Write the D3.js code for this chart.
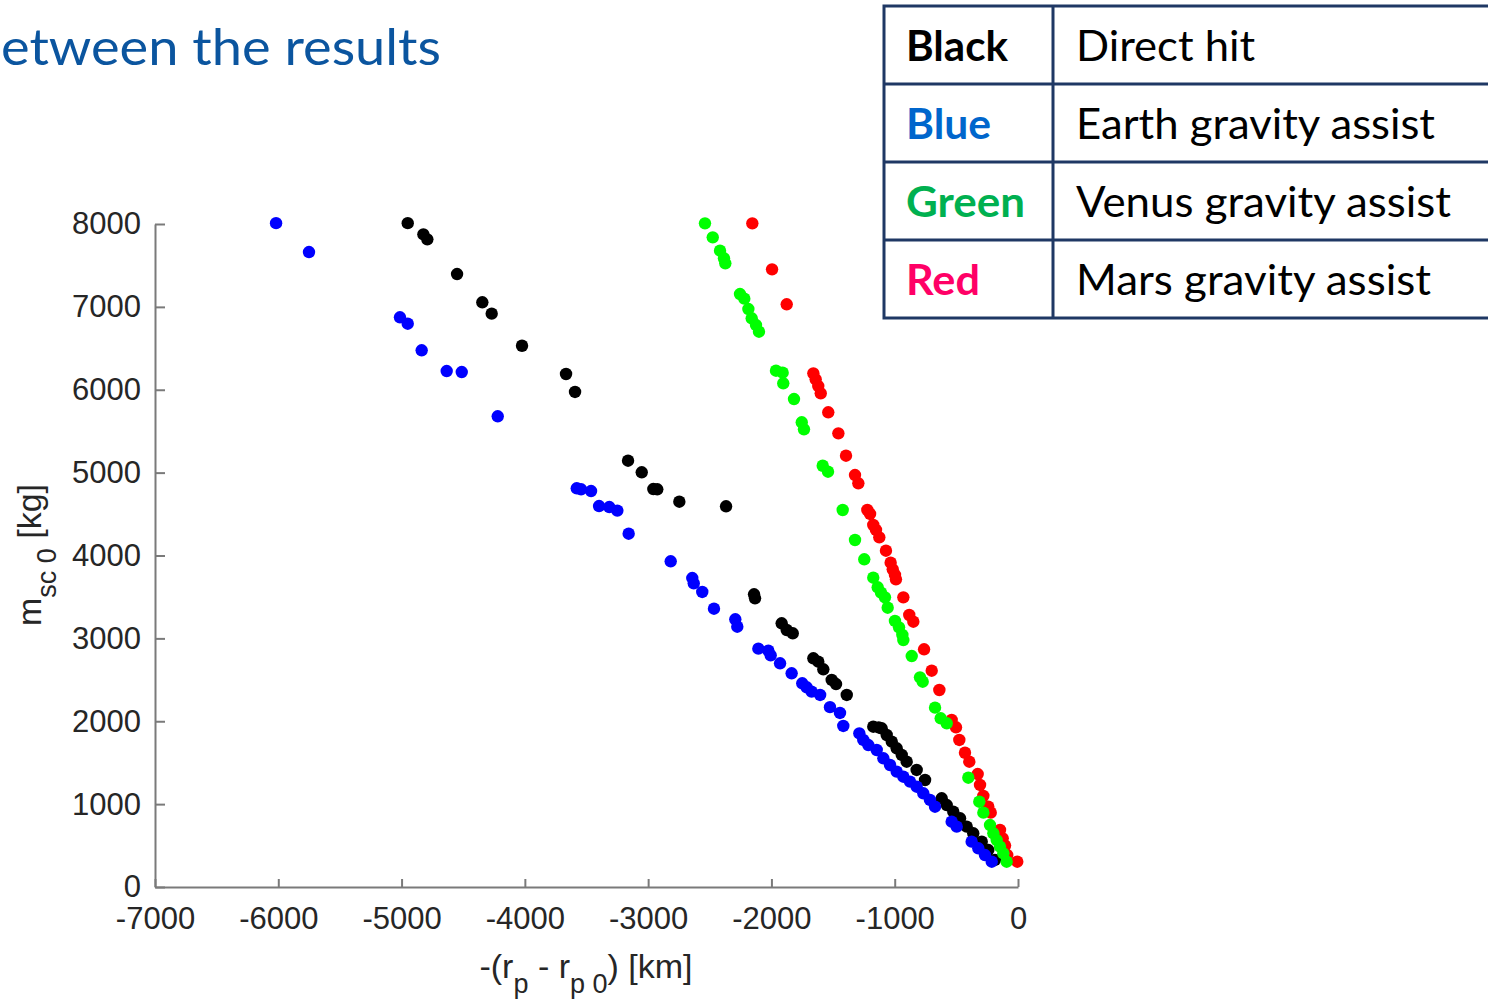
<!DOCTYPE html>
<html>
<head>
<meta charset="utf-8">
<script src="https://cdn.jsdelivr.net/npm/d3@7"></script>
<style>
  html, body { margin: 0; padding: 0; background: #fff; }
  svg { display: block; }
</style>
</head>
<body>
<svg id="chart" width="1488" height="1000"></svg>
<script>
// Tick values for both axes
const xTicks = [-7000, -6000, -5000, -4000, -3000, -2000, -1000, 0];
const yTicks = [0, 1000, 2000, 3000, 4000, 5000, 6000, 7000, 8000];

// Direct hit: -(rp - rp0) [km], msc0 [kg]
const blackX = [-4950, -4823, -4791, -4550, -4345, -4269, -4023, -3666, -3593, -3163, -3052, -2958, -2926, -2747, -2368,
  -2141, -2133, -1917, -1876, -1827, -1660, -1620, -1579, -1511, -1476, -1389, -1174, -1130, -1106, -1065, -1024, -984,
  -943, -903, -822, -754, -619, -578, -525, -470, -416, -363, -294, -241, -187];
const blackY = [8010, 7875, 7815, 7396, 7055, 6918, 6531, 6190, 5973, 5144, 5004, 4802, 4799, 4649, 4594,
  3532, 3483, 3182, 3101, 3061, 2760, 2719, 2627, 2498, 2449, 2317, 1934, 1925, 1915, 1834, 1753, 1674,
  1593, 1512, 1412, 1291, 1070, 989, 909, 829, 728, 648, 547, 446, 326];

// Earth gravity assist
const blueX = [-6018, -5751, -5013, -4950, -4837, -4634, -4512, -4220, -3579, -3544, -3463, -3398, -3315, -3250, -3158,
  -2817, -2642, -2630, -2561, -2466, -2293, -2277, -2106, -2025, -2006, -1930, -1836, -1750, -1714, -1674, -1605,
  -1525, -1444, -1417, -1287, -1255, -1214, -1146, -1092, -1038, -984, -930, -876, -822, -768, -714, -673, -538,
  -497, -376, -322, -268, -213];
const blueY = [8010, 7662, 6874, 6797, 6476, 6226, 6214, 5680, 4811, 4799, 4778, 4597, 4585, 4541, 4263,
  3930, 3728, 3664, 3560, 3358, 3230, 3141, 2876, 2851, 2796, 2699, 2579, 2458, 2410, 2357, 2317,
  2170, 2100, 1943, 1854, 1774, 1713, 1653, 1553, 1472, 1392, 1331, 1271, 1210, 1131, 1050, 969, 788,
  728, 547, 467, 386, 305];

// Venus gravity assist
const greenX = [-2539, -2476, -2417, -2385, -2374, -2255, -2220, -2187, -2160, -2125, -2101, -1963, -1909, -1904,
  -1817, -1754, -1736, -1584, -1541, -1422, -1322, -1247, -1174, -1138, -1111, -1079, -1057, -998, -965, -938,
  -930, -862, -795, -773, -673, -627, -578, -403, -314, -281, -227, -200, -173, -146, -119, -92];
const greenY = [8008, 7839, 7678, 7586, 7526, 7155, 7099, 6974, 6862, 6781, 6700, 6230, 6206, 6078,
  5888, 5607, 5523, 5083, 5011, 4549, 4187, 3954, 3732, 3616, 3551, 3495, 3370, 3210, 3133, 3041,
  2980, 2787, 2530, 2477, 2164, 2036, 1975, 1319, 1029, 897, 748, 648, 567, 486, 406, 305];

// Mars gravity assist
const redX = [-2155, -1995, -1876, -1660, -1641, -1620, -1600, -1539, -1457, -1395, -1322, -1295, -1222, -1200,
  -1174, -1152, -1125, -1071, -1033, -1016, -998, -990, -930, -882, -849, -762, -700, -638, -538, -503, -476,
  -430, -395, -327, -308, -281, -241, -221, -146, -124, -105, -87, -6];
const redY = [8008, 7453, 7031, 6198, 6126, 6045, 5957, 5728, 5474, 5204, 4971, 4871, 4549, 4501,
  4368, 4308, 4219, 4058, 3913, 3833, 3765, 3713, 3495, 3282, 3201, 2868, 2610, 2377, 2015, 1927, 1774,
  1620, 1512, 1363, 1231, 1100, 969, 897, 688, 587, 500, 386, 305];

// Legend table rows
const legendNames = ["Black", "Blue", "Green", "Red"];
const legendMeanings = ["Direct hit", "Earth gravity assist", "Venus gravity assist", "Mars gravity assist"];
const legendNameColors = ["#000000", "#0066CC", "#00B050", "#FF0066"];
const legendNameWidths = [102, 85, 119, 74];
const legendMeaningWidths = [179, 359, 375, 355];

const svg = d3.select("#chart");

const x = d3.scaleLinear().domain([-7000, 0]).range([155, 1018]);
const y = d3.scaleLinear().domain([0, 8000]).range([887, 224]);

const axisColor = "#7a7a7a";
const labelColor = "#262626";
const tickFont = "'Liberation Sans', Arial, Helvetica, sans-serif";

// Axes
const gx = svg.append("g")
  .attr("transform", `translate(0,${y(0)})`)
  .call(d3.axisBottom(x).tickValues(xTicks).tickFormat(d3.format("d"))
    .tickSizeInner(-8).tickSizeOuter(0).tickPadding(20));
const gy = svg.append("g")
  .attr("transform", `translate(${x(-7000)},0)`)
  .call(d3.axisLeft(y).tickValues(yTicks).tickFormat(d3.format("d"))
    .tickSizeInner(-10).tickSizeOuter(0).tickPadding(14));

[gx, gy].forEach(g => {
  g.select(".domain").attr("stroke", axisColor).attr("stroke-width", 2);
  g.selectAll(".tick line").attr("stroke", axisColor).attr("stroke-width", 2);
  g.selectAll(".tick text")
    .attr("fill", labelColor)
    .style("font-family", tickFont)
    .style("font-size", "31px");
});
gx.selectAll(".tick text").text(d => d === 0 ? "0" : String(d).replace("−", "-"));

// Scatter series
const series = [
  { xs: blackX, ys: blackY, color: "#000000" },
  { xs: blueX, ys: blueY, color: "#0000FF" },
  { xs: redX, ys: redY, color: "#FF0000" },
  { xs: greenX, ys: greenY, color: "#00FF00" }
];
series.forEach(s => {
  const pts = s.xs.map((v, i) => [v, s.ys[i]]);
  svg.append("g").selectAll("circle")
    .data(pts)
    .join("circle")
    .attr("cx", d => x(d[0]))
    .attr("cy", d => y(d[1]))
    .attr("r", 6.2)
    .attr("fill", s.color);
});

// Axis titles
const xt = svg.append("text")
  .attr("x", 586).attr("y", 978)
  .attr("text-anchor", "middle")
  .attr("fill", labelColor)
  .style("font-family", tickFont)
  .style("font-size", "34px");
xt.append("tspan").text("-(r");
xt.append("tspan").attr("dy", 15).style("font-size", "27px").text("p");
xt.append("tspan").attr("dy", -15).text(" - r");
xt.append("tspan").attr("dy", 15).style("font-size", "27px").text("p 0");
xt.append("tspan").attr("dy", -15).text(") [km]");

const yt = svg.append("text")
  .attr("transform", "translate(41,555) rotate(-90)")
  .attr("text-anchor", "middle")
  .attr("fill", labelColor)
  .style("font-family", tickFont)
  .style("font-size", "34px");
yt.append("tspan").text("m");
yt.append("tspan").attr("dy", 15).style("font-size", "27px").text("sc 0");
yt.append("tspan").attr("dy", -15).text(" [kg]");

// Heading
svg.append("text")
  .attr("x", 1).attr("y", 65)
  .attr("fill", "#0B559F")
  .attr("textLength", 440)
  .attr("lengthAdjust", "spacingAndGlyphs")
  .style("font-family", "Lato, 'Open Sans', sans-serif")
  .style("font-size", "51px")
  .text("etween the results");

// Legend table
const tbl = svg.append("g");
const rowTop = 6, rowH = 78, colL = 884, colM = 1053, colR = 1500;
const borderColor = "#1F3864";
tbl.append("rect")
  .attr("x", colL).attr("y", rowTop)
  .attr("width", colR - colL).attr("height", rowH * legendNames.length)
  .attr("fill", "#fff").attr("stroke", borderColor).attr("stroke-width", 3);
tbl.append("line")
  .attr("x1", colM).attr("x2", colM)
  .attr("y1", rowTop).attr("y2", rowTop + rowH * legendNames.length)
  .attr("stroke", borderColor).attr("stroke-width", 3);
legendNames.forEach((name, i) => {
  if (i > 0) {
    tbl.append("line")
      .attr("x1", colL).attr("x2", colR)
      .attr("y1", rowTop + rowH * i).attr("y2", rowTop + rowH * i)
      .attr("stroke", borderColor).attr("stroke-width", 3);
  }
  const base = rowTop + rowH * i + 55;
  tbl.append("text")
    .attr("x", 906).attr("y", base)
    .attr("fill", legendNameColors[i])
    .attr("textLength", legendNameWidths[i])
    .attr("lengthAdjust", "spacingAndGlyphs")
    .style("font-family", "Lato, 'Open Sans', sans-serif")
    .style("font-weight", "bold")
    .style("font-size", "42px")
    .text(name);
  tbl.append("text")
    .attr("x", 1076).attr("y", base)
    .attr("fill", "#000")
    .attr("textLength", legendMeaningWidths[i])
    .attr("lengthAdjust", "spacingAndGlyphs")
    .style("font-family", "Lato, 'Open Sans', sans-serif")
    .style("font-size", "42px")
    .text(legendMeanings[i]);
});
</script>
</body>
</html>
